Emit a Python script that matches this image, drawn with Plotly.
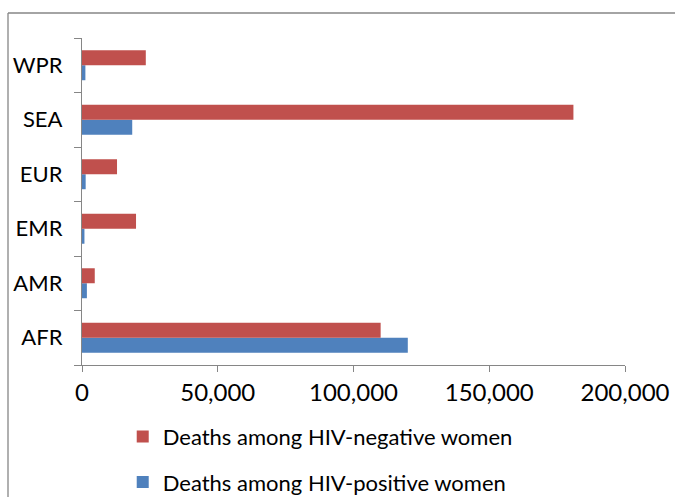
import plotly.graph_objects as go

regions = ["AFR", "AMR", "EMR", "EUR", "SEA", "WPR"]
hiv_negative = [110000, 4700, 19900, 12900, 181000, 23500]
hiv_positive = [120000, 1800, 900, 1350, 18500, 1250]
x_ticks = [0, 50000, 100000, 150000, 200000]
x_tick_labels = ["0", "50,000", "100,000", "150,000", "200,000"]

RED = "#C0504D"
BLUE = "#4F81BD"
GRAY = "#868686"
FONT = "Lato"
FS = 22

fig = go.Figure()
fig.add_trace(go.Bar(
    y=regions, x=hiv_positive, orientation="h",
    name="Deaths among HIV-positive women",
    marker=dict(color=BLUE, line=dict(width=0)),
    legendgroup="pos", legendrank=2,
))
fig.add_trace(go.Bar(
    y=regions, x=hiv_negative, orientation="h",
    name="Deaths among HIV-negative women",
    marker=dict(color=RED, line=dict(width=0)),
    legendgroup="neg", legendrank=1,
))

frame_left = (8 - 82) / 543
frame_top = (365 - 13) / 327

fig.update_layout(
    width=675, height=497,
    margin=dict(l=82, r=50, t=38, b=132, autoexpand=False),
    barmode="group", bargap=0.45, bargroupgap=0,
    plot_bgcolor="white", paper_bgcolor="white",
    font=dict(family=FONT, size=FS, color="#000000"),
    showlegend=True,
    legend=dict(
        orientation="v", x=0.075, xanchor="left", y=-0.155, yanchor="top",
        traceorder="grouped", tracegroupgap=14,
        font=dict(family=FONT, size=FS, color="#000000"),
        itemwidth=30, bgcolor="rgba(0,0,0,0)",
    ),
    shapes=[
        dict(type="line", xref="paper", yref="paper",
             x0=frame_left, x1=1.2, y0=frame_top, y1=frame_top,
             line=dict(color=GRAY, width=1.3), layer="below"),
        dict(type="line", xref="paper", yref="paper",
             x0=frame_left, x1=frame_left, y0=-0.5, y1=frame_top,
             line=dict(color=GRAY, width=1.3), layer="below"),
    ],
)
fig.update_xaxes(
    range=[0, 200000], tickvals=x_ticks, ticktext=x_tick_labels,
    showgrid=False, zeroline=False, automargin=False,
    showline=True, linecolor=GRAY, linewidth=1.3,
    ticks="outside", ticklen=6, tickcolor=GRAY, tickwidth=1.3,
    tickfont=dict(family=FONT, size=24),
)
fig.update_yaxes(
    categoryorder="array", categoryarray=regions,
    showgrid=False, zeroline=False, automargin=False,
    showline=True, linecolor=GRAY, linewidth=1.3,
    ticks="outside", ticklen=7, tickcolor=GRAY, tickwidth=1.3,
    tickson="boundaries", ticklabelstandoff=14,
    tickfont=dict(family=FONT, size=FS),
)

fig.write_html("out.html", config={"displayModeBar": False})

with open("out.html", "r", encoding="utf-8") as f:
    html = f.read()
html = html.replace("<html>", '<html style="overflow:hidden;margin:0;padding:0">', 1)
html = html.replace("<body>", '<body style="margin:0;padding:0;overflow:hidden">', 1)
with open("out.html", "w", encoding="utf-8") as f:
    f.write(html)
